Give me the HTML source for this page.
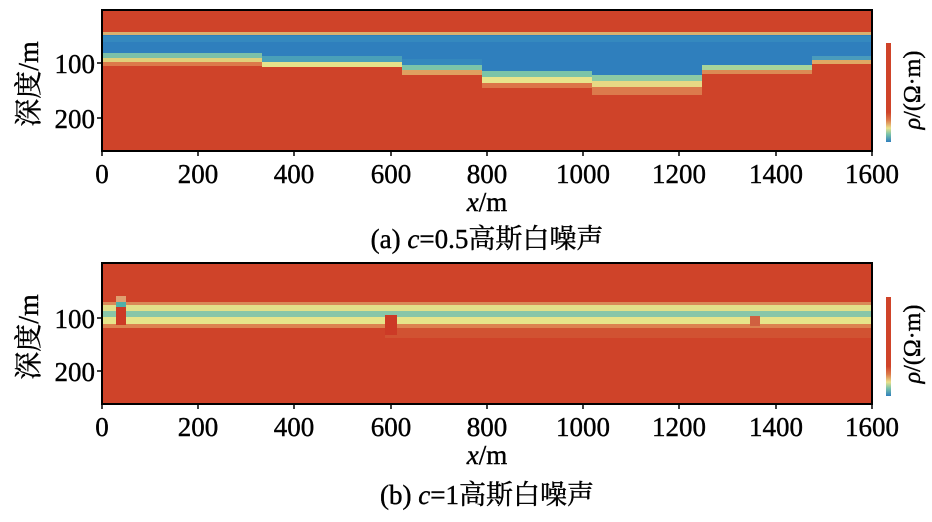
<!DOCTYPE html>
<html><head><meta charset="utf-8"><style>
body{margin:0;background:#fff;width:932px;height:522px;overflow:hidden}
svg{display:block}
text{font-family:"Liberation Serif","Noto Serif CJK SC",serif;fill:#000;stroke:#000;stroke-width:0.4}
</style></head><body>
<svg width="932" height="522" viewBox="0 0 932 522">
<!-- TOP PANEL -->
<rect x="102" y="10" width="770" height="141" fill="#cf4329"/>
<rect x="102" y="32" width="770" height="4" fill="#d9b070"/>
<rect x="102" y="35" width="770" height="24" fill="#2f7fbd"/>
<rect x="102" y="36" width="770" height="6" fill="#3a8fc0" opacity="0.6"/>
<rect x="102" y="53" width="160" height="5" fill="#7cc0a8"/>
<rect x="102" y="58" width="160" height="4" fill="#e0d07a"/>
<rect x="102" y="62" width="160" height="4" fill="#dc7a4a"/>
<rect x="262" y="56" width="140" height="6" fill="#4aa0b8"/>
<rect x="262" y="62" width="140" height="5" fill="#e6e28a"/>
<rect x="402" y="59" width="80" height="6" fill="#3488bd"/>
<rect x="402" y="65" width="80" height="5" fill="#7cc4a8"/>
<rect x="402" y="70" width="80" height="5" fill="#e0a060"/>
<rect x="482" y="59" width="110" height="12" fill="#2f7fbd"/>
<rect x="482" y="71" width="110" height="6" fill="#7cc4a8"/>
<rect x="482" y="77" width="110" height="6" fill="#e8e48c"/>
<rect x="482" y="83" width="110" height="5" fill="#dc7448"/>
<rect x="592" y="59" width="110" height="16" fill="#2f7fbd"/>
<rect x="592" y="75" width="110" height="6" fill="#8ccaa4"/>
<rect x="592" y="81" width="110" height="6" fill="#e8d884"/>
<rect x="592" y="87" width="110" height="8" fill="#dc7a4c"/>
<rect x="702" y="59" width="110" height="6" fill="#2f7fbd"/>
<rect x="702" y="65" width="110" height="5" fill="#a8d49a"/>
<rect x="702" y="70" width="110" height="4" fill="#dc8a54"/>
<rect x="812" y="56" width="60" height="4" fill="#4a9cbc"/>
<rect x="812" y="60" width="60" height="4" fill="#e0a864"/>
<rect x="102" y="10" width="770" height="141" fill="none" stroke="#000" stroke-width="2"/>
<g stroke="#000" stroke-width="1.5">
<line x1="97" y1="63" x2="102" y2="63"/><line x1="97" y1="118" x2="102" y2="118"/>
<line x1="102" y1="151" x2="102" y2="156"/><line x1="198" y1="151" x2="198" y2="156"/><line x1="294" y1="151" x2="294" y2="156"/><line x1="391" y1="151" x2="391" y2="156"/><line x1="487" y1="151" x2="487" y2="156"/><line x1="583" y1="151" x2="583" y2="156"/><line x1="679" y1="151" x2="679" y2="156"/><line x1="776" y1="151" x2="776" y2="156"/><line x1="872" y1="151" x2="872" y2="156"/>
</g>
<g font-size="27" text-anchor="end"><text x="95" y="73">100</text><text x="95" y="128">200</text></g>
<g font-size="27" text-anchor="middle">
<text x="102" y="183">0</text><text x="198" y="183">200</text><text x="294" y="183">400</text><text x="391" y="183">600</text><text x="487" y="183">800</text><text x="583" y="183">1000</text><text x="679" y="183">1200</text><text x="776" y="183">1400</text><text x="872" y="183">1600</text>
</g>
<text x="487" y="211" font-size="27" text-anchor="middle"><tspan font-style="italic">x</tspan>/m</text>
<text x="487" y="248" font-size="27" text-anchor="middle">(a) <tspan font-style="italic">c</tspan>=0.5高斯白噪声</text>
<text transform="translate(38,84) rotate(-90)" font-size="28" text-anchor="middle">深度/m</text>
<defs><linearGradient id="cb" x1="0" y1="1" x2="0" y2="0">
<stop offset="0" stop-color="#2f7fbd"/><stop offset="0.08" stop-color="#7cc4a8"/><stop offset="0.14" stop-color="#e8e08a"/><stop offset="0.22" stop-color="#dc7a4a"/><stop offset="0.3" stop-color="#cf4329"/><stop offset="1" stop-color="#cf4329"/></linearGradient></defs>
<rect x="886" y="43" width="5" height="99" fill="url(#cb)"/>
<text transform="translate(920,90) rotate(-90)" font-size="24" text-anchor="middle"><tspan font-style="italic">ρ</tspan>/(Ω·m)</text>

<!-- BOTTOM PANEL -->
<rect x="102" y="263" width="770" height="141" fill="#cf4329"/>
<rect x="102" y="302" width="770" height="3" fill="#d98a58"/>
<rect x="102" y="305" width="770" height="6" fill="#e2e08a"/>
<rect x="102" y="311" width="770" height="6" fill="#88c6a8"/>
<rect x="102" y="317" width="770" height="7" fill="#e6e48a"/>
<rect x="102" y="324" width="770" height="4" fill="#dc8250"/>
<rect x="385" y="328" width="487" height="10" fill="#d56a40" opacity="0.4"/>
<rect x="116" y="296" width="10" height="6" fill="#e0a070"/>
<rect x="116" y="302" width="10" height="5" fill="#50b0a8"/>
<rect x="116" y="307" width="10" height="18" fill="#cc3a26"/>
<rect x="385" y="315" width="12" height="20" fill="#cc3a26"/>
<rect x="750" y="316" width="10" height="10" fill="#d06040"/>
<rect x="102" y="263" width="770" height="141" fill="none" stroke="#000" stroke-width="2"/>
<g stroke="#000" stroke-width="1.5">
<line x1="97" y1="318" x2="102" y2="318"/><line x1="97" y1="371" x2="102" y2="371"/>
<line x1="102" y1="404" x2="102" y2="409"/><line x1="198" y1="404" x2="198" y2="409"/><line x1="294" y1="404" x2="294" y2="409"/><line x1="391" y1="404" x2="391" y2="409"/><line x1="487" y1="404" x2="487" y2="409"/><line x1="583" y1="404" x2="583" y2="409"/><line x1="679" y1="404" x2="679" y2="409"/><line x1="776" y1="404" x2="776" y2="409"/><line x1="872" y1="404" x2="872" y2="409"/>
</g>
<g font-size="27" text-anchor="end"><text x="95" y="328">100</text><text x="95" y="381">200</text></g>
<g font-size="27" text-anchor="middle">
<text x="102" y="436">0</text><text x="198" y="436">200</text><text x="294" y="436">400</text><text x="391" y="436">600</text><text x="487" y="436">800</text><text x="583" y="436">1000</text><text x="679" y="436">1200</text><text x="776" y="436">1400</text><text x="872" y="436">1600</text>
</g>
<text x="487" y="464" font-size="27" text-anchor="middle"><tspan font-style="italic">x</tspan>/m</text>
<text x="487" y="504" font-size="27" text-anchor="middle">(b) <tspan font-style="italic">c</tspan>=1高斯白噪声</text>
<text transform="translate(38,337) rotate(-90)" font-size="28" text-anchor="middle">深度/m</text>
<rect x="886" y="297" width="5" height="99" fill="url(#cb)"/>
<text transform="translate(920,344) rotate(-90)" font-size="24" text-anchor="middle"><tspan font-style="italic">ρ</tspan>/(Ω·m)</text>
</svg>
</body></html>
